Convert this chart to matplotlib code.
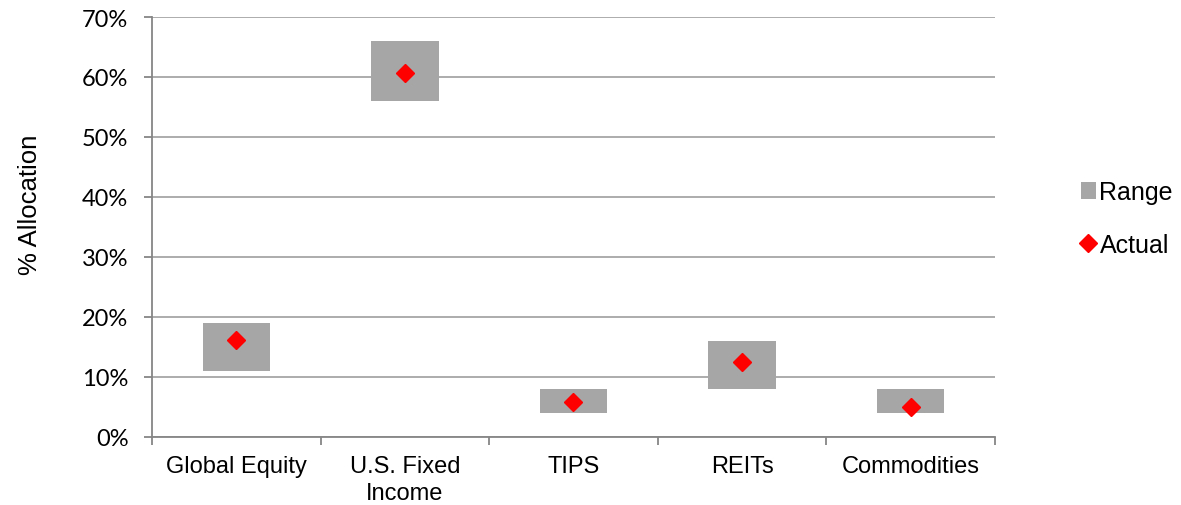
import numpy as np
import matplotlib.pyplot as plt
from matplotlib.ticker import FuncFormatter, FixedLocator

categories = ["Global Equity", "U.S. Fixed\nIncome", "TIPS", "REITs", "Commodities"]
range_low = [11, 56, 4, 8, 4]
range_high = [19, 66, 8, 16, 8]
actual = [16.1, 60.7, 5.8, 12.4, 4.9]

grey = "#a6a6a6"
axis_grey = "#868686"

fig = plt.figure(figsize=(11.81, 5.06), dpi=100)
ax = fig.add_axes([0.1287, 0.135, 0.7138, 0.8294])

x = np.arange(len(categories))
heights = np.array(range_high) - np.array(range_low)
ax.bar(x, heights, bottom=range_low, width=0.4, color=grey, label="Range", zorder=2)
ax.plot(x, actual, linestyle="none", marker="D", markersize=9, color="red",
        label="Actual", zorder=3)

ax.set_xlim(-0.5, len(categories) - 0.5)
ax.set_ylim(0, 70)
ax.set_yticks(np.arange(0, 71, 10))
ax.yaxis.set_major_formatter(FuncFormatter(lambda v, p: f"{v:.0f}%"))
ax.grid(axis="y", color=grey, linewidth=1.3, zorder=0)
ax.set_axisbelow(True)

ax.set_xticks(x)
ax.set_xticklabels(categories, fontname="Liberation Sans", fontsize=17,
                   linespacing=1.3)
ax.tick_params(axis="x", which="major", length=0, pad=13, colors="black")
ax.xaxis.set_minor_locator(FixedLocator(np.arange(-0.5, len(categories), 1)))
ax.tick_params(axis="x", which="minor", length=6, color=axis_grey, width=1.3)
ax.tick_params(axis="y", length=6, color=axis_grey, width=1.3, pad=11)
for lbl in ax.get_yticklabels():
    lbl.set_fontname("Lato")
    lbl.set_fontsize(17)

for side in ["top", "right"]:
    ax.spines[side].set_visible(False)
for side in ["left", "bottom"]:
    ax.spines[side].set_color(axis_grey)
    ax.spines[side].set_linewidth(1.3)

ax.set_ylabel("% Allocation", fontname="Liberation Sans", fontsize=18.5, labelpad=29)
ax.yaxis.label.set_y(0.555)

handles, labels = ax.get_legend_handles_labels()
order = [labels.index("Range"), labels.index("Actual")]
ax.legend([handles[i] for i in order], [labels[i] for i in order],
          loc="center left", bbox_to_anchor=(1.075, 0.52), frameon=False,
          prop={"family": "Liberation Sans", "size": 18}, handlelength=0.6,
          handletextpad=0.15, labelspacing=1.15)

fig.savefig("out.png", dpi=100)
